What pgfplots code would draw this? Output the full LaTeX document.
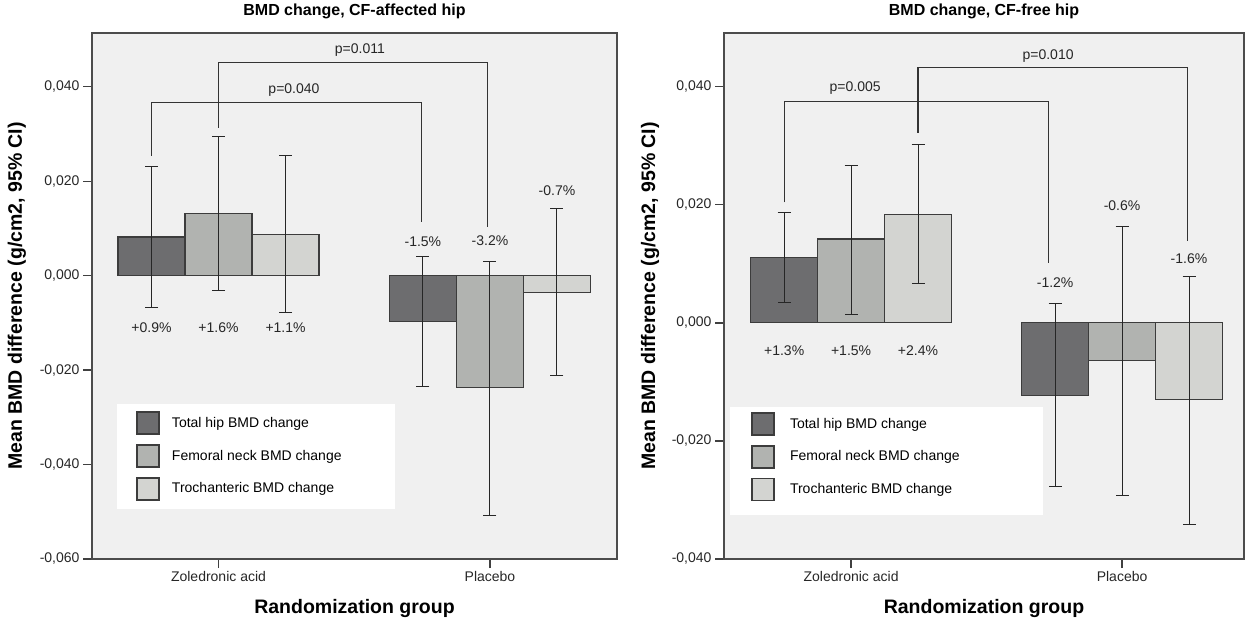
\documentclass[border=0pt]{standalone}
\usepackage{pgfplots}
\pgfplotsset{compat=1.18}
\usepackage{pgfplotstable}
\usepackage{fontspec}
\setmainfont{Liberation Sans}
\definecolor{bgc}{HTML}{F0F0F0}
\definecolor{cA}{HTML}{6D6D6F}
\definecolor{cB}{HTML}{B1B3B0}
\definecolor{cC}{HTML}{D3D4D1}
\definecolor{edge}{HTML}{3C3C3C}
\definecolor{txt}{HTML}{262626}

% left panel (CF-affected hip): x, mean, CI plus, CI minus
\pgfplotstableread{
x y ep em
0 0.0082 0.0149 0.0150
1 -0.0097 0.0137 0.0138
}\LTotal
\pgfplotstableread{
x y ep em
0 0.0132 0.0162 0.0164
1 -0.0237 0.0267 0.0271
}\LNeck
\pgfplotstableread{
x y ep em
0 0.0088 0.0166 0.0166
1 -0.0036 0.0178 0.0176
}\LTroch
% right panel (CF-free hip)
\pgfplotstableread{
x y ep em
0 0.0111 0.0076 0.0077
1 -0.0123 0.0155 0.0155
}\RTotal
\pgfplotstableread{
x y ep em
0 0.0142 0.0125 0.0127
1 -0.0064 0.0228 0.0228
}\RNeck
\pgfplotstableread{
x y ep em
0 0.0184 0.0118 0.0117
1 -0.0130 0.0209 0.0211
}\RTroch

\newcommand{\fs}{\fontsize{14}{17}\selectfont}
\pgfplotsset{
  bmd/.style={
    scale only axis, height=526pt,
    axis background/.style={fill=bgc},
    axis line style={line width=1.5pt, draw=black!70},
    xtick={0,1}, xticklabels={Zoledronic acid, Placebo},
    scaled y ticks=false,
    xtick pos=bottom, ytick pos=left, minor tick num=0,
    tick align=outside, major tick length=9pt,
    every tick/.style={black!75, line width=1.3pt},
    tick label style={font=\fs, text=txt},
    title style={font=\fontsize{16}{19}\selectfont\bfseries, at={(axis description cs:0.5,1)}, anchor=center, yshift=16pt},
    xlabel={Randomization group},
    ylabel={Mean BMD difference (g/cm2, 95\% CI)},
    xlabel style={font=\fontsize{19.5}{23}\selectfont\bfseries, at={(axis description cs:0.5,0)}, anchor=center, yshift=-49pt},
    ybar, bar width=67pt,
    clip=false,
    legend cell align=left,
    legend style={draw=none, fill=none, inner sep=0pt, row sep=9pt, font=\fs, anchor=north west,
      nodes={inner sep=0pt}},
  },
  bars/.style={fill=#1, draw=edge, line width=1.2pt,
    error bars/y dir=both, error bars/y explicit,
    error bars/error bar style={line width=1pt, black!85},
    error bars/error mark options={rotate=90, mark size=6.5pt, line width=1pt, black!85}},
  leg/.style={legend image code/.code={\draw[fill=#1, draw=edge, line width=1.8pt] (0pt,-11pt) rectangle (22pt,11pt);}},
}

\begin{document}
\begin{tikzpicture}
\useasboundingbox (0pt,0pt) rectangle (1246pt,621pt);
% ---------------- left panel ----------------
\begin{axis}[bmd, at={(92pt,62pt)}, anchor=south west, width=525pt,
  xmin=-0.466, xmax=1.468, ymin=-0.060, ymax=0.0514,
  ytick={-0.06,-0.04,-0.02,0,0.02,0.04},
  yticklabels={{-0,060},{-0,040},{-0,020},{0,000},{0,020},{0,040}},
  ylabel style={font=\fontsize{19.5}{23}\selectfont\bfseries, at={(axis description cs:-0.143,0.5)}, anchor=center, rotate=0},
  title={BMD change, CF-affected hip},
  legend style={at={(0.0838,0.2815)}, column sep=12pt},
]
\fill[white] (rel axis cs:0.048,0.095) rectangle (rel axis cs:0.577,0.295);
\addlegendimage{leg=cA}\addlegendentry{Total hip BMD change}
\addlegendimage{leg=cB}\addlegendentry{Femoral neck BMD change}
\addlegendimage{leg=cC}\addlegendentry{Trochanteric BMD change}
\addplot[bars=cA, bar shift=-67pt, forget plot] table[x=x, y=y, y error plus=ep, y error minus=em] {\LTotal};
\addplot[bars=cB, bar shift=0pt, forget plot] table[x=x, y=y, y error plus=ep, y error minus=em] {\LNeck};
\addplot[bars=cC, bar shift=67pt, forget plot] table[x=x, y=y, y error plus=ep, y error minus=em] {\LTroch};
\begin{scope}[every node/.style={font=\fs, text=txt}]
\node at (axis cs:-0.247,-0.0110) {+0.9\%};
\node at (axis cs:0,-0.0110) {+1.6\%};
\node at (axis cs:0.247,-0.0110) {+1.1\%};
\node at (axis cs:0.753,0.0072) {-1.5\%};
\node at (axis cs:1,0.0074) {-3.2\%};
\node at (axis cs:1.247,0.0180) {-0.7\%};
\draw[line width=1.1pt, black!80] (axis cs:-0.247,0.0254) |- (axis cs:0.749,0.0366) -- (axis cs:0.749,0.0114);
\node at (axis cs:0.278,0.0394) {p=0.040};
\draw[line width=1.1pt, black!80] (axis cs:0,0.0313) |- (axis cs:0.99,0.0451) -- (axis cs:0.99,0.0104);
\node at (axis cs:0.521,0.0478) {p=0.011};
\end{scope}
\end{axis}
% ---------------- right panel ----------------
\begin{axis}[bmd, at={(724pt,62pt)}, anchor=south west, width=520pt,
  xmin=-0.469, xmax=1.450, ymin=-0.040, ymax=0.0491,
  ytick={-0.04,-0.02,0,0.02,0.04},
  yticklabels={{-0,040},{-0,020},{0,000},{0,020},{0,040}},
  ylabel style={font=\fontsize{19.5}{23}\selectfont\bfseries, at={(axis description cs:-0.142,0.5)}, anchor=center, rotate=0},
  title={BMD change, CF-free hip},
  legend style={at={(0.052,0.280)}, column sep=15pt},
]
\fill[white] (rel axis cs:0.0115,0.0837) rectangle (rel axis cs:0.613,0.289);
\addlegendimage{leg=cA}\addlegendentry{Total hip BMD change}
\addlegendimage{leg=cB}\addlegendentry{Femoral neck BMD change}
\addlegendimage{leg=cC}\addlegendentry{Trochanteric BMD change}
\addplot[bars=cA, bar shift=-67pt, forget plot] table[x=x, y=y, y error plus=ep, y error minus=em] {\RTotal};
\addplot[bars=cB, bar shift=0pt, forget plot] table[x=x, y=y, y error plus=ep, y error minus=em] {\RNeck};
\addplot[bars=cC, bar shift=67pt, forget plot] table[x=x, y=y, y error plus=ep, y error minus=em] {\RTroch};
\begin{scope}[every node/.style={font=\fs, text=txt}]
\node at (axis cs:-0.247,-0.0047) {+1.3\%};
\node at (axis cs:0,-0.0047) {+1.5\%};
\node at (axis cs:0.247,-0.0047) {+2.4\%};
\node at (axis cs:0.753,0.0068) {-1.2\%};
\node at (axis cs:1,0.0198) {-0.6\%};
\node at (axis cs:1.247,0.0108) {-1.6\%};
\draw[line width=1.1pt, black!80] (axis cs:-0.247,0.0204) |- (axis cs:0.727,0.0375) -- (axis cs:0.727,0.0101);
\node at (axis cs:0.015,0.0397) {p=0.005};
\draw[line width=1.1pt, black!80] (axis cs:0.247,0.0322) |- (axis cs:1.24,0.0432) -- (axis cs:1.24,0.0138);
\node at (axis cs:0.727,0.0452) {p=0.010};
\end{scope}
\end{axis}
\end{tikzpicture}
\end{document}
